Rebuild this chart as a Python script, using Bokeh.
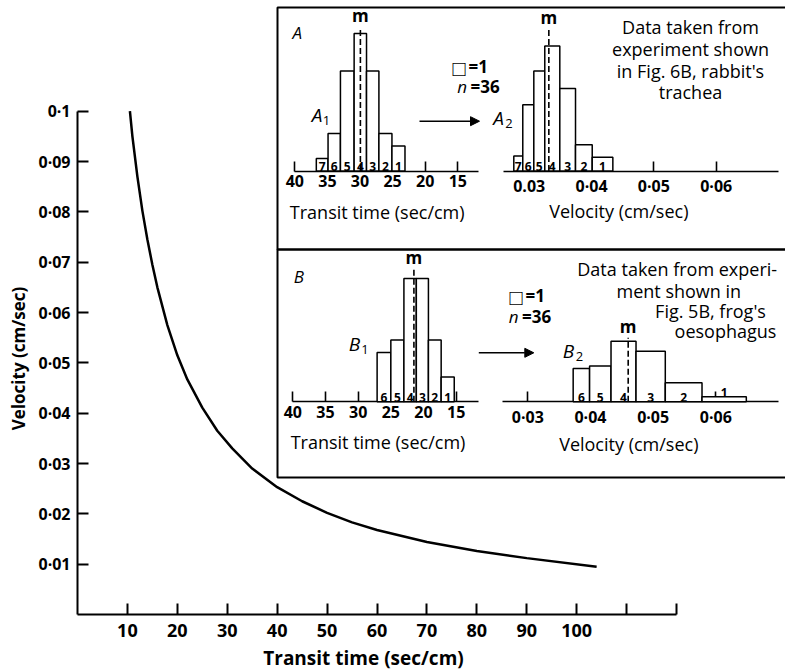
import math
from bokeh.plotting import figure
from bokeh.models import (Range1d, LinearAxis, FixedTicker, Label, Arrow,
                          NormalHead, BoxAnnotation, Grid)
from bokeh.core.properties import value
from bokeh.embed import file_html
from bokeh.resources import INLINE

# ------------------------------------------------------------------ data
# main curve: velocity versus transit time
transit_time = [10.5, 11, 12, 13, 14, 15, 16, 18, 20, 22, 25, 28, 31, 35,
                40, 45, 50, 55, 60, 70, 80, 90, 104]
velocity = [0.1, 0.095, 0.087, 0.0802, 0.0745, 0.0695, 0.065, 0.0575, 0.0515,
            0.0467, 0.0411, 0.0365, 0.033, 0.029, 0.0253, 0.0225, 0.0202,
            0.0183, 0.0168, 0.0144, 0.0126, 0.0112, 0.0095]

main_x_ticks = [10, 20, 30, 40, 50, 60, 70, 80, 90, 100, 110, 120]
main_x_labels = ["10", "20", "30", "40", "50", "60", "70", "80", "90", "100", "", ""]
main_y_ticks = [0.01, 0.02, 0.03, 0.04, 0.05, 0.06, 0.07, 0.08, 0.09, 0.1]
main_y_labels = ["0·01", "0·02", "0·03", "0·04", "0·05", "0·06", "0·07",
                 "0·08", "0·09", "0·1"]

# panel A (rabbit's trachea)
a1_edges = [36.7, 34.9, 33.0, 30.9, 29.0, 27.1, 25.1, 23.1]      # sec/cm
a1_counts = [1, 3, 8, 11, 8, 3, 2]
a1_names = ["7", "6", "5", "4", "3", "2", "1"]
a1_mean = 29.94
a2_edges = [0.02753, 0.02897, 0.03074, 0.03250, 0.03491, 0.03743, 0.04011, 0.04342]
a2_heights = [1.2, 5.3, 8.0, 10.0, 6.6, 2.1, 1.1]
a2_names = ["7", "6", "5", "4", "3", "2", "1"]
a2_mean = 0.03315

# panel B (frog's oesophagus)
b1_edges = [27.1, 25.0, 23.0, 21.1, 19.25, 17.3, 15.3]
b1_counts = [4, 5, 10, 10, 5, 2]
b1_names = ["6", "5", "4", "3", "2", "1"]
b1_mean = 21.47
b2_edges = [0.03724, 0.03986, 0.04328, 0.04727, 0.05194, 0.05780, 0.06487]
b2_heights = [2.7, 2.9, 4.9, 4.1, 1.54, 0.41]
b2_names = ["6", "5", "4", "3", "2", "1"]
b2_mean = 0.04602

# height reached by the dashed mean line in each histogram
mean_line_top = {"a1": 11.5, "a2": 11.4, "b1": 10.8, "b2": 5.2}

transit_ticks = [15, 20, 25, 30, 35, 40]
velocity_ticks = [0.03, 0.04, 0.05, 0.06]
a2_tick_labels = ["0.03", "0·04", "0·05", "0·06"]
b2_tick_labels = ["0·03", "0·04", "0·05", "0·06"]

# ------------------------------------------------------------------ layout
W, H = 785, 672
OX, OY = 0, 0            # Bokeh's page template removes the body margin
FONT = "Open Sans"


def span(a_px, a_val, b_px, b_val, lo_px, hi_px):
    k = (b_val - a_val) / (b_px - a_px)
    return Range1d(start=a_val + (lo_px - a_px) * k, end=a_val + (hi_px - a_px) * k)


def xr(a_px, a_val, b_px, b_val):
    return span(a_px, a_val, b_px, b_val, OX, OX + W)


def yr(a_px, a_val, b_px, b_val):
    return span(a_px, a_val, b_px, b_val, OY + H, OY)


p = figure(width=W, height=H,
           x_range=xr(77, 0, 676, 120), y_range=yr(614, 0, 110.7, 0.1),
           x_axis_location=None, y_axis_location=None,
           toolbar_location=None, output_backend="svg", title=None,
           min_border=0, outline_line_color=None)
p.background_fill_color = "white"
p.border_fill_color = "white"
p.center = [r for r in p.center if not isinstance(r, Grid)]

p.extra_x_ranges = {
    "px": xr(0, 0, 1, 1),
    "a1x": xr(294.3, 40, 457.3, 15),
    "a2x": xr(528.7, 0.03, 715.7, 0.06),
    "b1x": xr(292.3, 40, 455.7, 15),
    "b2x": xr(527.3, 0.03, 715.3, 0.06),
}
p.extra_y_ranges = {
    "py": yr(0, 0, 1, 1),
    "ay": yr(170.5, 0, 158.0, 1),
    "by": yr(401.3, 0, 388.96, 1),
}


def style_axis(ax, size, tick_len, standoff, width=2):
    ax.axis_line_width = width
    ax.axis_line_color = "black"
    ax.major_tick_line_width = width
    ax.major_tick_line_color = "black"
    ax.major_tick_in = tick_len
    ax.major_tick_out = 0
    ax.minor_tick_line_color = None
    ax.major_label_text_font = FONT
    ax.major_label_text_font_size = size
    ax.major_label_text_font_style = "bold"
    ax.major_label_text_color = "black"
    ax.major_label_standoff = standoff


# main axes
xax = LinearAxis(fixed_location=0, bounds=(0, 120),
                 ticker=FixedTicker(ticks=main_x_ticks),
                 major_label_overrides=dict(zip(main_x_ticks, main_x_labels)))
style_axis(xax, "18px", 11, 9)
p.add_layout(xax, "below")

yax = LinearAxis(fixed_location=0, bounds=(0, 0.1),
                 ticker=FixedTicker(ticks=main_y_ticks),
                 major_label_overrides=dict(zip(main_y_ticks, main_y_labels)))
style_axis(yax, "16px", 11, 7)
p.add_layout(yax, "left")

p.line(transit_time, velocity, line_color="black", line_width=2.5)


# inset histograms
def histogram(key, xname, yname, edges, heights, names, mean, ticks,
              tick_labels, bounds):
    ax = LinearAxis(x_range_name=xname, y_range_name=yname, fixed_location=0,
                    bounds=bounds, ticker=FixedTicker(ticks=ticks),
                    major_label_overrides=dict(zip(ticks, tick_labels)))
    style_axis(ax, "16px", 10, 4, width=1.6)
    p.add_layout(ax, "below")
    left = edges[:-1]
    right = edges[1:]
    p.quad(left=left, right=right, bottom=[0] * len(heights), top=heights,
           x_range_name=xname, y_range_name=yname, fill_color="white",
           line_color="black", line_width=1.5, level="annotation")
    centers = [(a + b) / 2 for a, b in zip(left, right)]
    ys = [0 if h > 0.9 else h for h in heights]
    p.text(x=centers, y=ys, text=names, x_range_name=xname, y_range_name=yname,
           text_align="center", text_baseline="bottom",
           text_font=value(FONT), text_font_size="12px", text_font_style="bold",
           text_color="black", level="overlay")
    top = mean_line_top[key]
    p.segment(x0=[mean], y0=[0], x1=[mean], y1=[top], x_range_name=xname,
              y_range_name=yname, line_color="black", line_width=1.6,
              line_dash="6 3", level="overlay")
    p.text(x=[mean], y=[top], text=["m"], x_range_name=xname, y_range_name=yname,
           text_align="center", text_baseline="bottom", text_font=value(FONT),
           text_font_size="17px", text_font_style="bold", text_color="black",
           level="overlay")


histogram("a1", "a1x", "ay", a1_edges, a1_counts, a1_names, a1_mean,
          transit_ticks, [str(t) for t in transit_ticks], (11.8, 40))
histogram("a2", "a2x", "ay", a2_edges, a2_heights, a2_names, a2_mean,
          velocity_ticks, a2_tick_labels, (0.0259, 0.0700))
histogram("b1", "b1x", "by", b1_edges, b1_counts, b1_names, b1_mean,
          transit_ticks, [str(t) for t in transit_ticks], (11.6, 40))
histogram("b2", "b2x", "by", b2_edges, b2_heights, b2_names, b2_mean,
          velocity_ticks, b2_tick_labels, (0.0259, 0.0700))

# inset frame
for top, bottom in [(7, 249), (249, 477)]:
    p.add_layout(BoxAnnotation(left=277, right=800, top=top, bottom=bottom,
                               x_range_name="px", y_range_name="py",
                               fill_color=None, fill_alpha=0,
                               line_color="black", line_alpha=1, line_width=2,
                               level="overlay"))


def label(text, x, y, size, style="normal", align="center", angle=0):
    p.add_layout(Label(x=x, y=y, text=text, x_range_name="px", y_range_name="py",
                       text_font=FONT, text_font_size=size, text_font_style=style,
                       text_align=align, text_baseline="middle", angle=angle,
                       text_color="black"))


def arrow(x0, x1, y):
    p.add_layout(Arrow(x_start=x0, y_start=y, x_end=x1, y_end=y,
                       x_range_name="px", y_range_name="py", line_width=1.6,
                       line_color="black",
                       end=NormalHead(size=9, fill_color="black",
                                      line_color="black", line_width=1)))


# main axis titles
label("Velocity (cm/sec)", 18, 358, "17px", "bold", angle=math.pi / 2)
label("Transit time (sec/cm)", 363, 657, "19px", "bold")

# panel A texts
label("A", 296.7, 31.7, "17px", "italic")
label("A", 316.7, 114, "19px", "italic")
label("1", 326, 120, "13px")
label("□", 452, 66, "22px", align="left")
label("=1", 468, 66, "17px", "bold", align="left")
label("n", 456.7, 86, "17px", "italic", align="left")
label("=36", 470, 86, "17px", "bold", align="left")
arrow(419, 479, 120.7)
label("A", 498, 117, "19px", "italic")
label("2", 508.5, 123, "13px")
label("Data taken from", 690, 26.7, "18px")
label("experiment shown", 690, 48.3, "18px")
label("in Fig. 6B, rabbit's", 690, 70.7, "18px")
label("trachea", 690, 91.7, "18px")
label("Transit time (sec/cm)", 376.7, 211.7, "18px")
label("Velocity (cm/sec)", 618.3, 210, "18px")

# panel B texts
label("B", 298.3, 275.7, "17px", "italic")
label("B", 354, 343, "19px", "italic")
label("1", 364.5, 348.5, "13px")
label("□", 509, 295, "22px", align="left")
label("=1", 525, 295, "17px", "bold", align="left")
label("n", 508.3, 316, "17px", "italic", align="left")
label("=36", 521.5, 316, "17px", "bold", align="left")
arrow(478.3, 533.3, 352.3)
label("B", 568, 350, "19px", "italic")
label("2", 579, 355.5, "13px")
label("Data taken from experi-", 676.7, 268.3, "18px")
label("ment shown in", 678.3, 290, "18px")
label("Fig. 5B, frog's", 710, 310, "18px")
label("oesophagus", 725, 330, "18px")
label("Transit time (sec/cm)", 377.5, 441.7, "18px")
label("Velocity (cm/sec)", 628.3, 443.3, "18px")

open("out.html", "w").write(file_html(p, INLINE))
